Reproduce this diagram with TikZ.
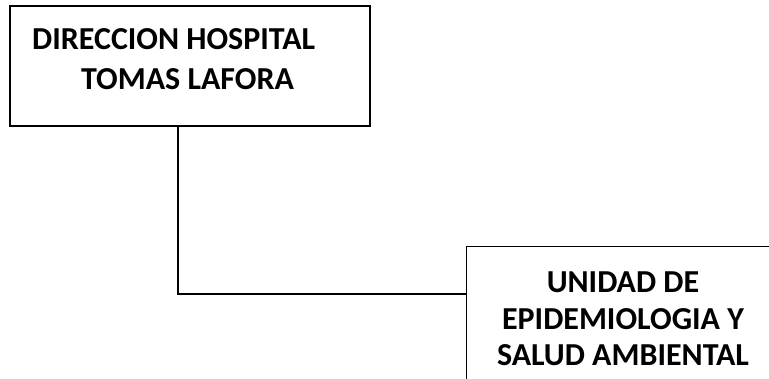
\documentclass[tikz,border=0pt]{standalone}
\usepackage{fontspec}
\setmainfont{Carlito}
\begin{document}
\begin{tikzpicture}[x=1pt,y=-1pt,
  boxline/.style={draw=black,line width=1.3pt},
  lbl/.style={inner sep=0pt},
  conn/.style={draw=black,line width=1.3pt}]
\clip (0,0) rectangle (769,378);
\fill[white] (0,0) rectangle (769,378);
\node[boxline,minimum width=360pt,minimum height=120pt,inner sep=0pt] (dir) at (190,66) {};
\node[lbl,align=left,anchor=north west,font=\bfseries\fontsize{32}{40}\selectfont] (dirt) at (32,28) {DIRECCION HOSPITAL\\\hspace*{49pt}TOMAS LAFORA};
\node[boxline,minimum width=320pt,minimum height=160pt,inner sep=0pt,anchor=north west] (uni) at (466,246) {};
\node[lbl,align=center,font=\bfseries\fontsize{32}{36.5}\selectfont,anchor=north] (unit) at (623,272) {UNIDAD DE\\EPIDEMIOLOGIA Y\\SALUD AMBIENTAL};
\coordinate (j) at (178,294);
\draw[conn] (dir.south -| j) -- (j) -- (j -| uni.west);
\end{tikzpicture}
\end{document}
